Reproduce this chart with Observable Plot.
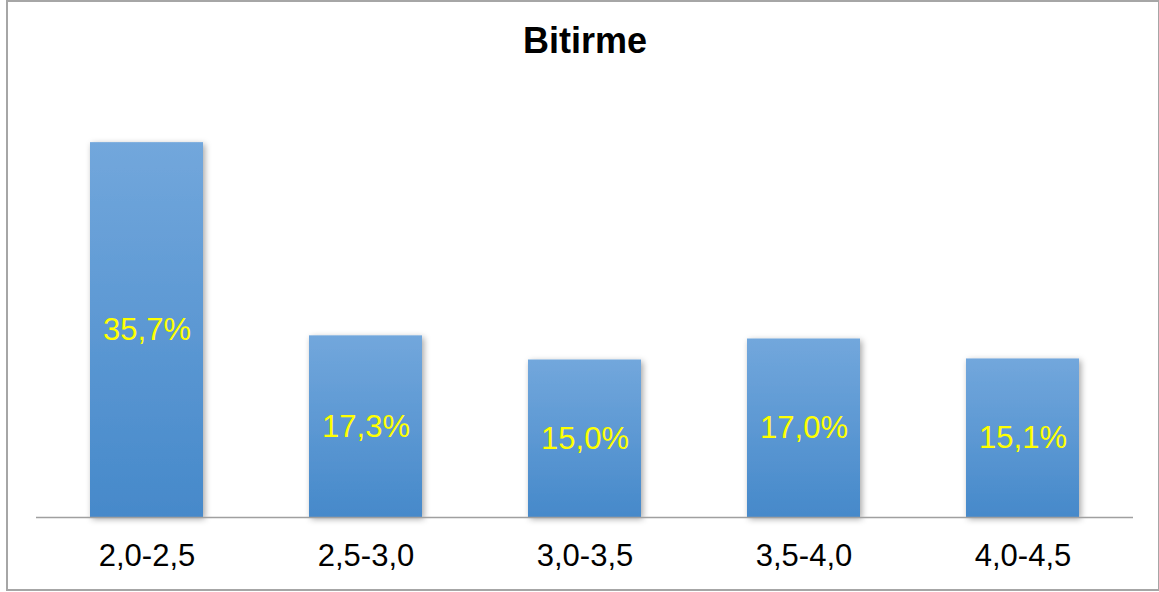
<!DOCTYPE html>
<html>
<head>
<meta charset="utf-8">
<script src="https://cdn.jsdelivr.net/npm/d3@7"></script>
<script src="https://cdn.jsdelivr.net/npm/@observablehq/plot@0.6"></script>
<style>
  html, body { margin: 0; padding: 0; background: #fff; }
  #wrap { position: relative; width: 1159px; height: 592px; overflow: hidden; }
  #border { position: absolute; left: 6px; top: 0px; width: 1150px; height: 587px; border: 2px solid #a6a6a6; pointer-events: none; }
  svg { display: block; }
</style>
</head>
<body>
<div id="wrap"><div id="border"></div></div>
<script>
const title = "Bitirme";
const categories = ["2,0-2,5", "2,5-3,0", "3,0-3,5", "3,5-4,0", "4,0-4,5"];
const values = [35.7, 17.3, 15.0, 17.0, 15.1];
const valueLabels = ["35,7%", "17,3%", "15,0%", "17,0%", "15,1%"];

const data = categories.map((c, i) => ({category: c, value: values[i], label: valueLabels[i]}));
const font = "'Liberation Sans', Arial, Helvetica, sans-serif";

const chart = Plot.plot({
  width: 1159,
  height: 592,
  marginLeft: 36,
  marginRight: 26,
  marginTop: 97,
  marginBottom: 75,
  style: {fontFamily: font, background: "transparent"},
  x: {domain: categories, paddingInner: 0.485, paddingOuter: 0.2425, axis: null},
  y: {domain: [0, 40], axis: null},
  marks: [
    Plot.barY(data, {x: "category", y: "value", fill: "#5b97d3", className: "gbar"}),
    Plot.ruleY([0], {stroke: "#a0a0a0", strokeWidth: 1.3}),
    Plot.text(data, {x: "category", y: d => d.value / 2, text: "label", fill: "#ffff00", fontSize: 31, lineAnchor: "middle"}),
    Plot.text(data, {x: "category", text: "category", frameAnchor: "bottom", dy: 39, fill: "#000", fontSize: 31, lineAnchor: "middle"}),
    Plot.text([title], {text: d => d, frameAnchor: "top", dy: -56, fill: "#000", fontSize: 36, fontWeight: "bold", lineAnchor: "middle"})
  ]
});

const svg = d3.select(chart);
const defs = svg.insert("defs", ":first-child");
const grad = defs.append("linearGradient").attr("id", "barGrad").attr("x1", 0).attr("y1", 0).attr("x2", 0).attr("y2", 1);
grad.append("stop").attr("offset", "0%").attr("stop-color", "#72a7dc");
grad.append("stop").attr("offset", "100%").attr("stop-color", "#4689ca");
const filt = defs.append("filter").attr("id", "barShadow").attr("x", "-20%").attr("y", "-20%").attr("width", "140%").attr("height", "140%");
filt.append("feDropShadow").attr("dx", 2).attr("dy", 2).attr("stdDeviation", 3).attr("flood-color", "#000").attr("flood-opacity", 0.35);
svg.selectAll("g.gbar rect, .gbar rect").attr("fill", "url(#barGrad)");
svg.selectAll("g.gbar").attr("filter", "url(#barShadow)");

document.getElementById("wrap").prepend(chart);
</script>
</body>
</html>
